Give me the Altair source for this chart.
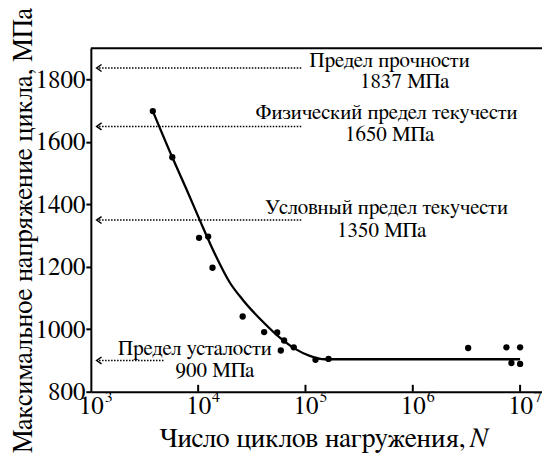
import altair as alt
import pandas as pd

# --- experimental points (cycles N, max stress MPa) ---
pts_N = [3780, 5740, 10200, 12400, 13600, 26000, 41200, 54500, 63200, 58900,
         77800, 124000, 164000, 3.28e6, 7.46e6, 1.0e7, 8.3e6, 1.0e7]
pts_S = [1699, 1551, 1293, 1297, 1197, 1041, 991, 990, 964, 932,
         942, 902, 905, 940, 942, 942, 892, 889]

# --- fitted curve ---
curve_N = [3780, 5740, 7710, 10400, 14330, 19770, 26100, 40100, 57700,
           79400, 109600, 151000, 1.0e7]
curve_S = [1699, 1551, 1452, 1348, 1241, 1149, 1094, 1024, 973,
           938, 915, 904, 904]

# --- reference levels (arrows) ---
lvl_S = [1837, 1650, 1350, 900]
lvl_start = [1194, 1194, 1194, 1194]
lvl_end = [94400, 94400, 94400, 4910]

# --- annotation texts ---
ann_text = ["Предел прочности", "1837 МПа",
            "Физический предел текучести", "1650 МПа",
            "Условный предел текучести", "1350 МПа",
            "Предел усталости", "900 МПа"]
ann_N = [6.08e5, 8.4e5, 5.7e5, 6.08e5, 5.7e5, 5.13e5, 9330, 14330]
ann_S = [1839, 1772, 1673, 1603, 1369, 1296, 918, 848]

# --- axes ---
x_ticks = [1e3, 1e4, 1e5, 1e6, 1e7]
x_exps = ["3", "4", "5", "6", "7"]
y_ticks = [800, 1000, 1200, 1400, 1600, 1800]
x_domain = [1000, 1.6e7]
y_domain = [800, 1900]

FONT = "FreeSerif"

xs = alt.Scale(type="log", domain=x_domain, nice=False)
ys = alt.Scale(domain=y_domain, nice=False, zero=False)

pts = pd.DataFrame({"N": pts_N, "S": pts_S})
curve = pd.DataFrame({"N": curve_N, "S": curve_S})
lvl = pd.DataFrame({"S": lvl_S, "N0": lvl_start, "N1": lvl_end})
ann = pd.DataFrame({"t": ann_text, "N": ann_N, "S": ann_S})
exps = pd.DataFrame({"N": x_ticks, "e": x_exps, "S": [800] * 5})
xt = pd.DataFrame({"N": x_ticks[1:], "S0": [800] * 4, "S1": [822] * 4})
top = pd.DataFrame({"N0": [x_domain[0]], "N1": [x_domain[1]], "S": [1900]})

x_axis = alt.Axis(values=x_ticks, labelExpr="'10'", tickSize=0, labelPadding=2,
                  labelFontSize=25, labelFlush=False, labelOverlap=False,
                  title="Число циклов нагружения,",
                  titleFontSize=27.5, titleAlign="right", titleX=375, titleY=55,
                  titleBaseline="alphabetic")
y_axis = alt.Axis(values=y_ticks, format="d", tickSize=5, labelPadding=1, labelFontSize=25,
                  labelFlush=False, labelOverlap=False,
                  title="Максимальное напряжение цикла, МПа", titleFontSize=27,
                  titleX=-59, titleY=182, titleAlign="center",
                  titleBaseline="alphabetic", titleAngle=270)

base_line = alt.Chart(curve).mark_line(color="black", strokeWidth=2.3, interpolate="monotone").encode(
    x=alt.X("N:Q", scale=xs, axis=x_axis),
    y=alt.Y("S:Q", scale=ys, axis=y_axis),
)

points = alt.Chart(pts).mark_point(filled=True, color="black", size=40, opacity=1).encode(
    x=alt.X("N:Q", scale=xs), y=alt.Y("S:Q", scale=ys))

dotted = alt.Chart(lvl).mark_rule(color="black", strokeWidth=1.5, strokeDash=[1.5, 1.5]).encode(
    x=alt.X("N0:Q", scale=xs), x2="N1:Q", y=alt.Y("S:Q", scale=ys))

arrows = alt.Chart(lvl).mark_point(shape="M0.7,-1L-0.7,0L0.7,1", filled=False, color="black",
                                   strokeWidth=1.5, size=49, opacity=1).encode(
    x=alt.X("N0:Q", scale=xs), y=alt.Y("S:Q", scale=ys))

texts = alt.Chart(ann).mark_text(font=FONT, fontSize=21, color="black", align="center",
                                 baseline="alphabetic").encode(
    x=alt.X("N:Q", scale=xs), y=alt.Y("S:Q", scale=ys), text="t:N")

exp_text = alt.Chart(exps).mark_text(font=FONT, fontSize=16, color="black", align="center",
                                     baseline="middle", dx=18, dy=5).encode(
    x=alt.X("N:Q", scale=xs), y=alt.Y("S:Q", scale=ys), text="e:N")

xticks = alt.Chart(xt).mark_rule(color="black", strokeWidth=2).encode(
    x=alt.X("N:Q", scale=xs), y=alt.Y("S0:Q", scale=ys), y2="S1:Q")

top_rule = alt.Chart(top).mark_rule(color="black", strokeWidth=2).encode(
    x=alt.X("N0:Q", scale=xs), x2="N1:Q", y=alt.Y("S:Q", scale=ys))

n_label = alt.Chart(top).mark_text(font=FONT, fontSize=27.5, fontStyle="italic", color="black",
                                   align="left", baseline="alphabetic").encode(
    x=alt.value(379), y=alt.value(399), text=alt.value("N"))

chart = alt.layer(base_line, points, dotted, arrows, texts, exp_text, xticks, top_rule, n_label).properties(
    width=452, height=344,
    autosize=alt.AutoSizeParams(type="none"),
    padding={"left": 83, "top": 40, "right": 0, "bottom": 62},
    background="white",
).configure_view(stroke=None).configure_axis(
    grid=False, domainColor="black", domainWidth=2, tickColor="black", tickWidth=2,
    labelFont=FONT, labelColor="black", titleFont=FONT, titleColor="black",
    titleFontWeight="normal",
).configure_text(font=FONT)

chart.save("out.html", embed_options={"renderer": "svg", "actions": False})
